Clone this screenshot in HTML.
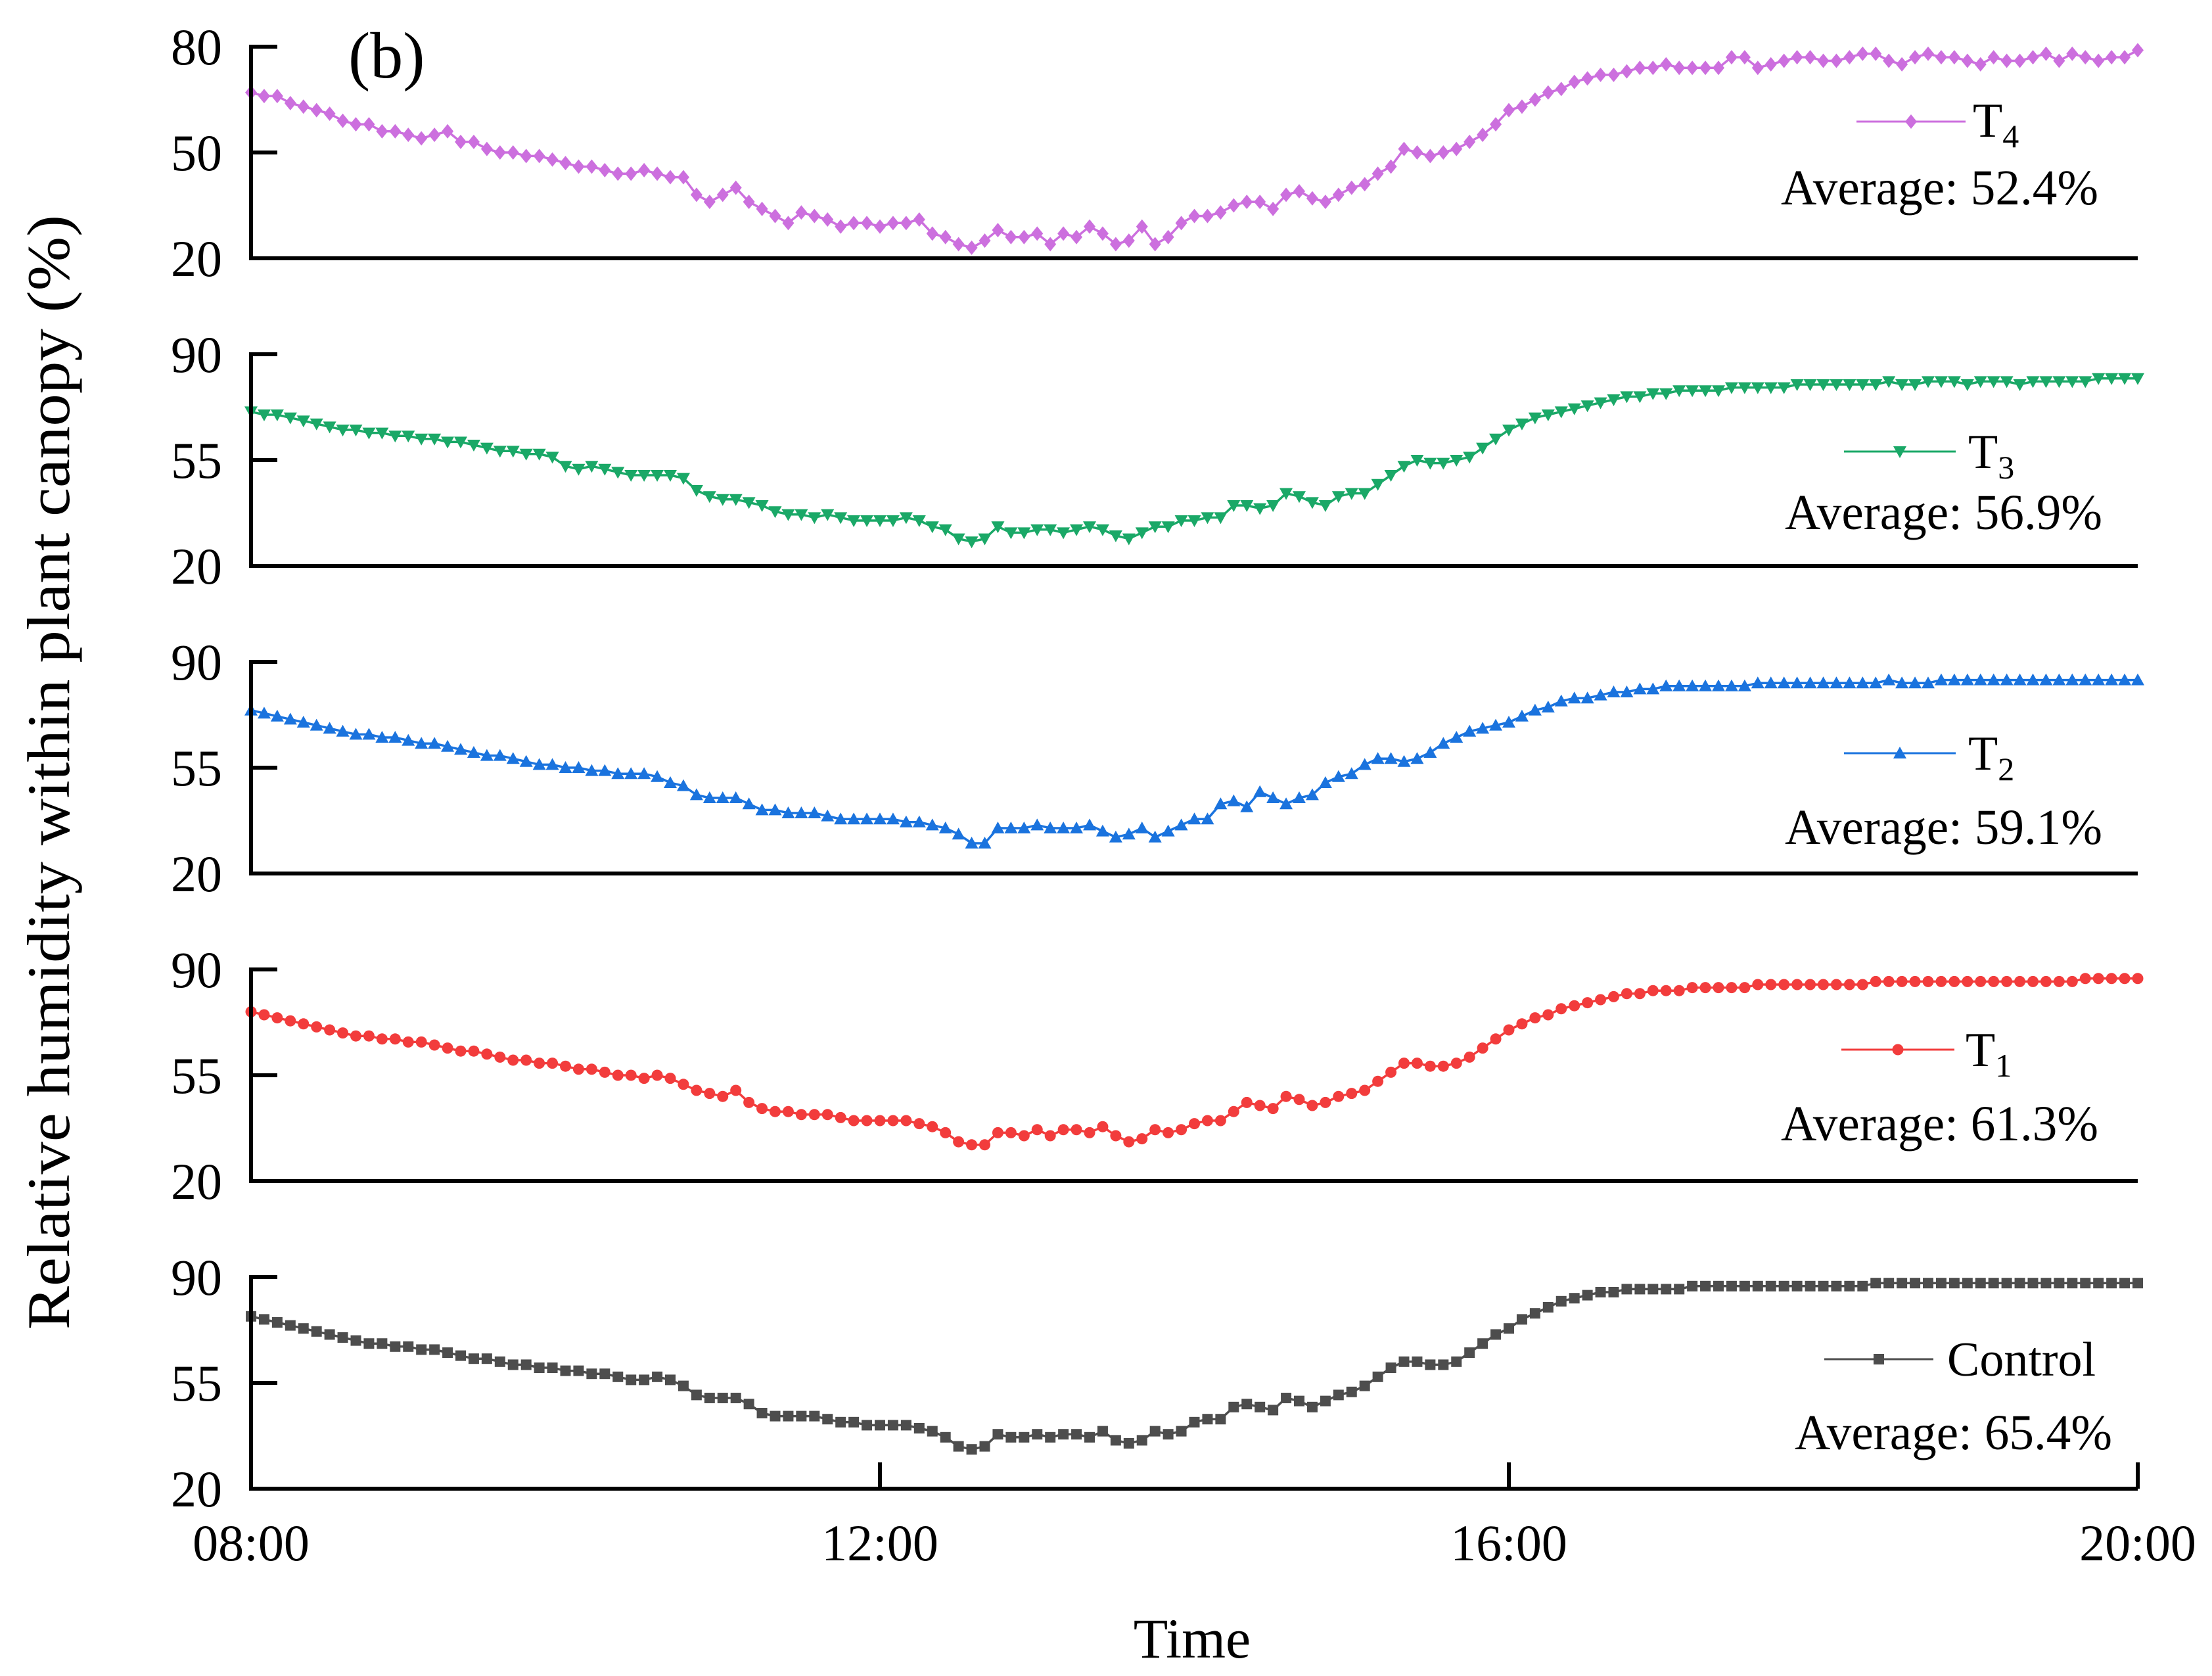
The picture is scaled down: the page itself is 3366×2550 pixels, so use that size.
<!DOCTYPE html>
<html><head><meta charset="utf-8"><style>
html,body{margin:0;padding:0;background:#fff;}
svg{display:block;font-family:"Liberation Serif","Times New Roman",serif;}
svg text{font-family:"Liberation Serif","Times New Roman",serif;}
</style></head><body>
<svg id="chart" width="3366" height="2550" viewBox="0 0 3366 2550" xmlns="http://www.w3.org/2000/svg">
<text x="530" y="118" font-size="100">(b)</text>
<text transform="translate(105,1175) rotate(-90)" text-anchor="middle" font-size="92" textLength="1696" lengthAdjust="spacingAndGlyphs">Relative humidity within plant canopy (%)</text>
<text x="1814" y="2522" text-anchor="middle" font-size="86">Time</text>
<g id="plots"></g>
</svg>
<script>
const timeTicks = ["08:00","12:00","16:00","20:00"];
const tickHours = [8,12,16,20];
const seriesNames = ["T4","T3","T2","T1","Control"];
const averages = ["52.4%","56.9%","59.1%","61.3%","65.4%"];
const yTicksTop = [20,50,80];
const yTicksOther = [20,55,90];
const t4 = [67,66,66,64,63,62,61,59,58,58,56,56,
55,54,55,56,53,53,51,50,50,49,49,48,
47,46,46,45,44,44,45,44,43,43,38,36,
38,40,36,34,32,30,33,32,31,29,30,30,
29,30,30,31,27,26,24,23,25,28,26,26,
27,24,27,26,29,27,24,25,29,24,26,30,
32,32,33,35,36,36,34,38,39,37,36,38,
40,41,44,46,51,50,49,50,51,53,55,58,
62,63,65,67,68,70,71,72,72,73,74,74,
75,74,74,74,74,77,77,74,75,76,77,77,
76,76,77,78,78,76,75,77,78,77,77,76,
75,77,76,76,77,78,76,78,77,76,77,77,79];
const t3 = [71,70,70,69,68,67,66,65,65,64,64,63,
63,62,62,61,61,60,59,58,58,57,57,56,
53,52,53,52,51,50,50,50,50,49,45,43,
42,42,41,40,38,37,37,36,37,36,35,35,
35,35,36,35,33,32,29,28,29,33,31,31,
32,32,31,32,33,32,30,29,31,33,33,35,
35,36,36,40,40,39,40,44,43,41,40,43,
44,44,47,50,53,55,54,54,55,56,59,62,
65,67,69,70,71,72,73,74,75,76,76,77,
77,78,78,78,78,79,79,79,79,79,80,80,
80,80,80,80,80,81,80,80,81,81,81,80,
81,81,81,80,81,81,81,81,81,82,82,82,82];
const t2 = [74,73,72,71,70,69,68,67,66,66,65,65,
64,63,63,62,61,60,59,59,58,57,56,56,
55,55,54,54,53,53,53,52,50,49,46,45,
45,45,43,41,41,40,40,40,39,38,38,38,
38,38,37,37,36,35,33,30,30,35,35,35,
36,35,35,35,36,34,32,33,35,32,34,36,
38,38,43,44,42,47,45,43,45,46,50,52,
53,56,58,58,57,58,60,63,65,67,68,69,
70,72,74,75,77,78,78,79,80,80,81,81,
82,82,82,82,82,82,82,83,83,83,83,83,
83,83,83,83,83,84,83,83,83,84,84,84,
84,84,84,84,84,84,84,84,84,84,84,84,84];
const t1 = [76,75,74,73,72,71,70,69,68,68,67,67,
66,66,65,64,63,63,62,61,60,60,59,59,
58,57,57,56,55,55,54,55,54,52,50,49,
48,50,46,44,43,43,42,42,42,41,40,40,
40,40,40,39,38,36,33,32,32,36,36,35,
37,35,37,37,36,38,35,33,34,37,36,37,
39,40,40,43,46,45,44,48,47,45,46,48,
49,50,53,56,59,59,58,58,59,61,64,67,
70,72,74,75,77,78,79,80,81,82,82,83,
83,83,84,84,84,84,84,85,85,85,85,85,
85,85,85,85,86,86,86,86,86,86,86,86,
86,86,86,86,86,86,86,86,87,87,87,87,87];
const control = [77,76,75,74,73,72,71,70,69,68,68,67,
67,66,66,65,64,63,63,62,61,61,60,60,
59,59,58,58,57,56,56,57,56,54,51,50,
50,50,48,45,44,44,44,44,43,42,42,41,
41,41,41,40,39,37,34,33,34,38,37,37,
38,37,38,38,37,39,36,35,36,39,38,39,
42,43,43,47,48,47,46,50,49,47,49,51,
52,54,57,60,62,62,61,61,62,65,68,71,
73,76,78,80,82,83,84,85,85,86,86,86,
86,86,87,87,87,87,87,87,87,87,87,87,
87,87,87,87,88,88,88,88,88,88,88,88,
88,88,88,88,88,88,88,88,88,88,88,88,88];

const NS = "http://www.w3.org/2000/svg";
const X0 = 382, X1 = 3253, H0 = 8, H1 = 20;
function xScale(h){ return X0 + (h - H0) / (H1 - H0) * (X1 - X0); }
const panels = [
 {data:t4, color:"#cc6fde", marker:"diamond", ticks:yTicksTop, top:71, bottom:393, leg:{y:185, lx1:2825, lx2:2991, tx:3002, ty:208, ax:2710, ay:311}},
 {data:t3, color:"#1aa867", marker:"down", ticks:yTicksOther, top:539, bottom:861, leg:{y:687, lx1:2806, lx2:2976, tx:2995, ty:712, ax:2716, ay:805}},
 {data:t2, color:"#1a73de", marker:"up", ticks:yTicksOther, top:1007, bottom:1329, leg:{y:1146, lx1:2806, lx2:2976, tx:2995, ty:1171, ax:2716, ay:1284}},
 {data:t1, color:"#f23c3c", marker:"circle", ticks:yTicksOther, top:1475, bottom:1797, leg:{y:1597, lx1:2802, lx2:2974, tx:2991, ty:1622, ax:2710, ay:1735}},
 {data:control, color:"#4d4d4d", marker:"square", ticks:yTicksOther, top:1943, bottom:2265, leg:{y:2068, lx1:2776, lx2:2942, tx:2963, ty:2093, ax:2731, ay:2205}}
];
const g = document.getElementById("plots");
function el(tag, attrs, parent){ const e = document.createElementNS(NS, tag); for (const k in attrs) e.setAttribute(k, attrs[k]); (parent||g).appendChild(e); return e; }
function marker(kind, x, y, color, parent){
  let m;
  if (kind === "diamond") m = el("polygon", {points:`${x},${y-11} ${x+9},${y} ${x},${y+11} ${x-9},${y}`, fill:color}, parent);
  else if (kind === "down") m = el("polygon", {points:`${x-10},${y-8} ${x+10},${y-8} ${x},${y+10}`, fill:color}, parent);
  else if (kind === "up") m = el("polygon", {points:`${x-10},${y+8} ${x+10},${y+8} ${x},${y-10}`, fill:color}, parent);
  else if (kind === "circle") m = el("circle", {cx:x, cy:y, r:8.5, fill:color}, parent);
  else m = el("rect", {x:x-8, y:y-8, width:16, height:16, fill:color}, parent);
  return m;
}
panels.forEach((p, pi) => {
  const lo = p.ticks[0], hi = p.ticks[p.ticks.length-1];
  const yScale = v => p.bottom - (v - lo) / (hi - lo) * (p.bottom - p.top);
  const grp = el("g", {});
  
  
  const pts = p.data.map((v, i) => `${xScale(H0 + i * (H1 - H0) / (p.data.length - 1)).toFixed(1)},${yScale(v).toFixed(1)}`).join(" ");
  const line = el("polyline", {points:pts, fill:"none", stroke:p.color, "stroke-width":3.5}, grp);
  
  
  p.data.forEach((v, i) => {
    const m = marker(p.marker, xScale(H0 + i * (H1 - H0) / (p.data.length - 1)), yScale(v), p.color, grp);
    
    
  });
  const ya = el("line", {x1:X0, y1:p.top-3, x2:X0, y2:p.bottom+3, stroke:"#000", "stroke-width":6}, grp);
  
  
  const xa = el("line", {x1:X0-3, y1:p.bottom, x2:X1, y2:p.bottom, stroke:"#000", "stroke-width":6}, grp);
  
  
  p.ticks.forEach(t => {
    const ty = yScale(t);
    const tk = el("line", {x1:X0, y1:ty, x2:X0+40, y2:ty, stroke:"#000", "stroke-width":6}, grp);
    
    
    const tl = el("text", {x:338, y:ty+27, "text-anchor":"end", "font-size":78}, grp);
    tl.textContent = t;
    
    
  });
  const L = p.leg;
  const ll = el("line", {x1:L.lx1, y1:L.y, x2:L.lx2, y2:L.y, stroke:p.color, "stroke-width":3}, grp);
  
  
  const lm = marker(p.marker, (L.lx1+L.lx2)/2, L.y, p.color, grp);
  
  
  const lt = el("text", {x:L.tx, y:L.ty, "font-size":74}, grp);
  
  
  const nm = seriesNames[pi];
  if (nm.startsWith("T")) {
    lt.appendChild(document.createTextNode("T"));
    const sub = el("tspan", {"font-size":50, dy:16}, lt);
    sub.textContent = nm.slice(1);
  } else lt.textContent = nm;
  const at = el("text", {x:L.ax, y:L.ay, "font-size":76, textLength:483, lengthAdjust:"spacingAndGlyphs"}, grp);
  at.textContent = "Average: " + averages[pi];
  
  
});
const bottom = panels[4].bottom;
tickHours.forEach((h, i) => {
  const x = xScale(h);
  if (i > 0) {
    const tk = el("line", {x1:x, y1:bottom, x2:x, y2:bottom-40, stroke:"#000", "stroke-width":6});
    
    
  }
  const tl = el("text", {x:x, y:2374, "text-anchor":"middle", "font-size":78});
  tl.textContent = timeTicks[i];
  
  
});
</script>
</body></html>
